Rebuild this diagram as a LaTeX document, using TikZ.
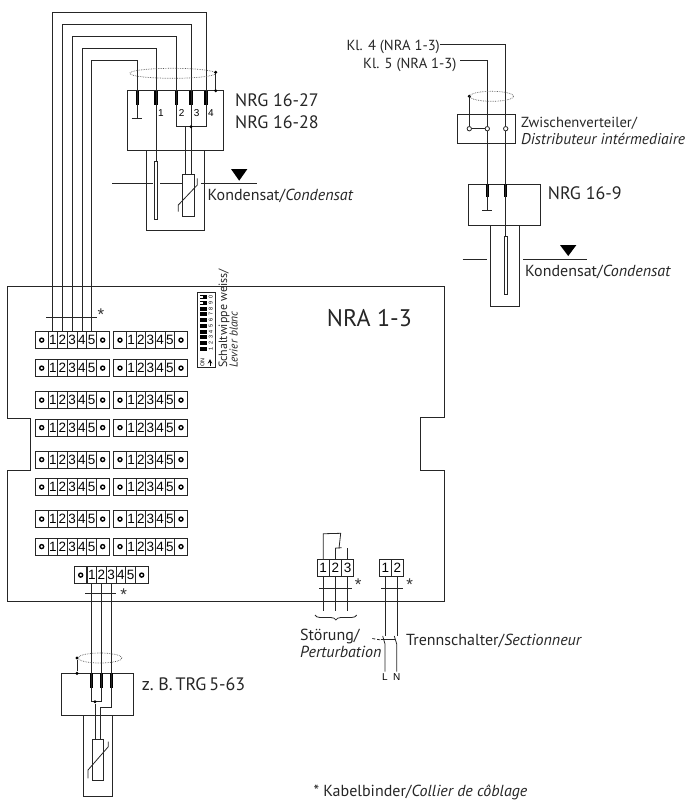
\documentclass[tikz,border=0pt]{standalone}
\usepackage{fontspec}
\setmainfont{PT Sans}
\newfontfamily\arialface{Liberation Sans}
\usetikzlibrary{calc}
\usetikzlibrary{decorations.pathreplacing}
\usetikzlibrary{matrix}
\usetikzlibrary{positioning}
\definecolor{inkline}{gray}{0.15}
\tikzset{
  terminal/.style={
    matrix of nodes, nodes in empty cells,
    inner sep=0, outer sep=0, anchor=north west, column sep=-.9pt,
    ampersand replacement=\&,
    nodes={draw=inkline, line width=.9pt, anchor=center, inner sep=0, outer sep=0,
           minimum height=17.3pt,
           font=\arialface\fontsize{13.5}{14}\selectfont}
  },
  cellw/.style={nodes={minimum width=9.7pt}},
  pinw/.style={nodes={minimum width=12.5pt, pinhole}},
  fullterm/.style={terminal,
    column 1/.style={pinw}, column 7/.style={pinw},
    column 2/.style={cellw}, column 3/.style={cellw}, column 4/.style={cellw},
    column 5/.style={cellw}, column 6/.style={cellw}
  },
  smallterm/.style={terminal, nodes={minimum width=12.2pt}},
  pinhole/.style={path picture={
    \draw[line width=1.4pt, black] (path picture bounding box.center) circle (2pt);}},
  wire/.style={draw=inkline, line width=.8pt},
  stub/.style={draw=black, line width=3.3pt},
  unitbox/.style={draw=inkline, line width=.8pt, inner sep=0, outer sep=0, anchor=north west},
  rodbox/.style={unitbox, fill=white},
  ring/.style={draw=black!65, line width=.7pt, densely dotted},
  dot/.style={fill=black, inner sep=0, minimum size=3.4pt, circle},
  hollow/.style={draw=inkline, line width=.8pt, fill=white, inner sep=0, minimum size=4.4pt, circle},
  typename/.style={anchor=base west, inner sep=0, text=black!85, font=\fontsize{18}{20}\selectfont},
  caption/.style={anchor=base west, inner sep=0, text=black!85, font=\fontsize{16}{18}\selectfont},
  smallcaption/.style={caption, font=\fontsize{14.6}{16}\selectfont},
  wirenum/.style={inner sep=0, font=\arialface\fontsize{10}{11}\selectfont},
  tiemark/.style={inner sep=0, anchor=north, text=black!80, font=\arialface\fontsize{17}{18}\selectfont},
  dipnum/.style={inner sep=0, rotate=90, font=\arialface\fontsize{5.5}{6}\selectfont}
}
\newcommand{\levelmark}[3]{%
  \fill[black] (#1,#2) -- ++(16.4,0) -- ++(-8.2,#3) -- cycle;}
\begin{document}
\begin{tikzpicture}[x=1pt,y=-1pt]
  \useasboundingbox (0,0) rectangle (686,801);

  % housing of the switching unit
  \draw[wire] (7.5,286.5) -- (444,286.5) -- (444,417.7) -- (420,417.7) -- (420,470.3)
    -- (444,470.3) -- (444,601) -- (7.5,601) -- (7.5,470.3) -- (30.7,470.3)
    -- (30.7,418) -- (7.5,418) -- cycle;
  \node[typename, font=\fontsize{24}{26}\selectfont] (nraname) at (326.7,326.7) {NRA 1-3};

  % terminal rows
  \foreach \rowy [count=\i] in {331,359,391,418.5,450.5,478,510,537.5} {
    \matrix (L\i) [fullterm] at (35,\rowy) {
 \& 1 \& 2 \& 3 \& 4 \& 5 \& \\
    };
    \matrix (R\i) [fullterm] at (113.3,\rowy) {
 \& 1 \& 2 \& 3 \& 4 \& 5 \& \\
    };
  }
  \matrix (trgterm) [fullterm] at (74,566) {
 \& 1 \& 2 \& 3 \& 4 \& 5 \& \\
  };
  \matrix (alarm) [smallterm] at (316.7,559) {
1 \& 2 \& 3 \\
  };
  \matrix (mains) [smallterm] at (378.7,559) {
1 \& 2 \\
  };

  % code switch
  \node[unitbox, minimum width=17.3pt, minimum height=75pt] (dipbox) at (197.7,292.7) {};
  \foreach \n [evaluate=\n as \py using 295.2+5.75*\n, evaluate=\n as \d using {int(mod(10-\n,10))}] in {0,...,9} {
    \fill[black] (199.5,\py) rectangle (207,\py+3.9);
    \node[dipnum] (dip\n) at (210.7,\py+2) {\d};
  }
  \fill[white] (200,296) rectangle (203,298);
  \fill[white] (200,301.7) rectangle (203,303.8);
  \node[dipnum] (dipon) at (202.5,362.5) {ON};
  \draw[->, >=stealth, line width=1pt] (210,366) -- (210,359);
  \node[caption, rotate=90, font=\fontsize{12}{13}\selectfont] (dipde) at (227,368) {Schaltwippe weiss/};
  \node[caption, rotate=90, font=\itshape\fontsize{11.5}{12}\selectfont] (dipfr) at (237.5,368) {Levier blanc};

  % NRG 16-27 / NRG 16-28
  \node[unitbox, minimum width=96pt, minimum height=59.3pt] (nrgA) at (127.3,90.7) {};
  \node[unitbox, minimum width=57.7pt, minimum height=80.7pt] (nrgAtube) at (146.3,150) {};
  \coordinate (a1) at (137.3,90.7);
  \coordinate (a2) at (156,90.7);
  \coordinate (a3) at (176.7,90.7);
  \coordinate (a4) at (191,90.7);
  \coordinate (a5) at (206,90.7);
  \draw[wire] (L1-1-2.north) |- (206,12.5) -- (a5);
  \draw[wire] (L1-1-3.north) |- (191,24) -- (a4);
  \draw[wire] (L1-1-4.north) |- (176.7,36) -- (a3);
  \draw[wire] (L1-1-5.north) |- (156,48) -- (a2);
  \draw[wire] (L1-1-6.north) |- (137.3,60) -- (a1);
  \foreach \c in {a1,a2,a3,a4,a5} {
    \draw[stub] (\c) -- ++(0,14.3);
  }
  \draw[wire] (a1) -- ++(0,27.3);
  \draw[wire] (131.7,118) -- (142.3,118);
  \node[rodbox, minimum width=3.4pt, minimum height=58pt] (nrgArod) at (154.3,161.3) {};
  \draw[wire] (a2) -- (nrgArod.north);
  \draw[wire] (a3) -- ++(0,36) -| (a5);
  \node[rodbox, minimum width=11.7pt, minimum height=41.3pt] (nrgAntc) at (182.3,174.7) {};
  \draw[wire] (a4) -- (a4 |- nrgAntc.north);
  \draw[wire] (185,126.7) -- (185,174.7);
  \node[dot] (nrgAjoin) at (191,126.7) {};
  \draw[wire] (178.3,211.7) -- (178.3,205) -- (197.3,185) -- (197.3,178.3);
  \node[wirenum] (nA1) at (161,113) {1};
  \node[wirenum] (nA2) at (181.7,113) {2};
  \node[wirenum] (nA3) at (196.7,113) {3};
  \node[wirenum] (nA4) at (211,113) {4};
  \draw[ring] (172.7,73.3) ellipse (43pt and 5pt);
  \node[dot] (shieldAtop) at (215.7,72.3) {};
  \node[dot] (shieldAbot) at (215.7,90.7) {};
  \draw[wire] (shieldAtop) -- (shieldAbot);
  \draw[wire] (112,183.3) -- (153,183.3) (160,183.3) -- (181.7,183.3) (201,183.3) -- (256.7,183.3);
  \levelmark{231}{169}{11.7}
  \node[typename] (nameAa) at (235,106) {NRG 16-27};
  \node[typename] (nameAb) at (235,128) {NRG 16-28};
  \node[caption] (condA) at (207.5,200.5) {Kondensat/\textit{Condensat}};
  \draw[wire] (46,317.3) -- (96.7,317.3);
  \node[tiemark] (tieA) at (101,309) {*};

  % NRG 16-9
  \node[unitbox, minimum width=57.7pt, minimum height=29pt] (dist) at (457.3,114.3) {};
  \node[unitbox, minimum width=72.4pt, minimum height=41pt] (nrgB) at (468.3,184) {};
  \node[unitbox, minimum width=29pt, minimum height=81pt] (nrgBtube) at (490,225) {};
  \node[smallcaption, anchor=base east] (kl4) at (440,50.7) {Kl. 4 (NRA 1-3)};
  \node[smallcaption, anchor=base east] (kl5) at (456.7,68) {Kl. 5 (NRA 1-3)};
  \node[hollow] (p1) at (469.3,128.7) {};
  \node[hollow] (p2) at (487.3,128.7) {};
  \node[hollow] (p3) at (505.7,128.7) {};
  \draw[wire] (kl4.east |- 0,44.3) -- (p3 |- 0,44.3) -- (p3);
  \draw[wire] (460,60) -- (p2 |- 0,60) -- (p2);
  \draw[wire] (p1) -- (p2);
  \draw[wire] (p2) -- (p2 |- nrgB.north);
  \draw[wire] (p3) -- (p3 |- nrgB.north);
  \node[dot] (shieldB) at (469.3,96.3) {};
  \draw[wire] (shieldB) -- (p1);
  \draw[ring] (491.7,96.3) ellipse (22pt and 5pt);
  \draw[stub] (p2 |- nrgB.north) -- ++(0,12.7);
  \draw[stub] (p3 |- nrgB.north) -- ++(0,12.7);
  \draw[wire] (p2 |- nrgB.north) -- ++(0,26);
  \draw[wire] (482.3,210) -- (492.3,210);
  \node[rodbox, minimum width=3.4pt, minimum height=57.6pt] (nrgBrod) at (504.3,236.7) {};
  \draw[wire] (p3 |- nrgB.north) -- (nrgBrod.north -| p3);
  \draw[wire] (462.7,259) -- (486.7,259) (523.3,259) -- (586.7,259);
  \levelmark{560}{245}{11}
  \node[smallcaption] (zwde) at (521,127.3) {Zwischenverteiler/};
  \node[caption, font=\fontsize{15.6}{17}\selectfont] (zwfr) at (521,144) {\textit{Distributeur intérmediaire}};
  \node[typename] (nameB) at (547.7,199) {NRG 16-9};
  \node[caption] (condB) at (525,276) {Kondensat/\textit{Condensat}};

  % TRG 5-63
  \node[unitbox, minimum width=72pt, minimum height=41.7pt] (trg) at (61.7,673.3) {};
  \node[unitbox, minimum width=29.3pt, minimum height=81pt] (trgtube) at (83,715) {};
  \coordinate (b1) at (trgterm-1-2.south |- trg.north);
  \coordinate (b2) at (trgterm-1-3.south |- trg.north);
  \coordinate (b3) at (trgterm-1-4.south |- trg.north);
  \foreach \k [count=\j from 2] in {b1,b2,b3} {
    \draw[wire] (trgterm-1-\j.south) -- (\k);
    \draw[stub] (\k) -- ++(0,14.4);
  }
  \draw[wire] (b1) -- ++(0,28.4) -| (b2);
  \draw[wire] (b3) -- ++(0,34.4) -- (100.3,707.7);
  \node[rodbox, minimum width=11.4pt, minimum height=41.4pt] (trgntc) at (92.3,739.3) {};
  \node[dot] (trgjoin) at (95,701.7) {};
  \draw[wire] (trgjoin) -- (trgjoin |- trgntc.north);
  \draw[wire] (100.3,707.7) -- (100.3 ,739.3);
  \draw[wire] (88,778.3) -- (88,770) -- (108.3,746.7) -- (108.3,741.7);
  \draw[ring] (100,658) ellipse (22pt and 5pt);
  \node[dot] (shieldCtop) at (77,658) {};
  \node[dot] (shieldCbot) at (77,673.3) {};
  \draw[wire] (shieldCtop) -- (shieldCbot);
  \node[typename] (nameC) at (141.7,690.7) {\spaceskip=.16em\relax z. B. TRG 5-63};
  \draw[wire] (85,593.7) -- (116,593.7);
  \node[tiemark] (tieC) at (123.7,589) {*};

  % alarm contact
  \draw[wire] (alarm-1-1.north) -- ++(0,-25.7) -- (340.7,533.3) -- (339,548.3);
  \draw[wire] (alarm-1-2.north) -- ++(0,-11.3) -- (341.7,547.7);
  \draw[wire] (alarm-1-3.north) -- ++(0,-11);
  \foreach \j in {1,2,3} {
    \draw[wire] (alarm-1-\j.south) -- ++(0,34.7);
  }
  \draw[wire] (319.3,588.3) -- (352.3,588.3);
  \node[tiemark] (tieD) at (358.3,579) {*};
  \draw[wire, decorate, decoration={brace, mirror, amplitude=5pt}] (315,615) -- (356.7,615);
  \node[caption] (alarmde) at (300,640.7) {Störung/};
  \node[caption] (alarmfr) at (300,657.3) {\textit{Perturbation}};

  % mains
  \draw[wire] (mains-1-1.south) -- ++(0,59);
  \draw[wire] (mains-1-2.south) -- ++(0,59);
  \draw[wire] (382.7,636) -- (385,644) -- (385,671.7);
  \draw[wire] (394.3,636) -- (396.7,644) -- (396.7,671.7);
  \draw[wire, densely dashed] (372.3,638.5) -- (381,640);
  \draw[wire] (381,639.5) -- (394.5,639.5);
  \draw[wire] (381,588.3) -- (402.7,588.3);
  \node[tiemark] (tieE) at (409.7,579) {*};
  \node[wirenum] (lineL) at (385,677.5) {L};
  \node[wirenum] (lineN) at (396.7,677.5) {N};
  \node[caption] (switchname) at (406,645.7) {Trennschalter/\textit{Sectionneur}};

  \node[caption] (tienote) at (313.3,796.5) {* Kabelbinder/\textit{Collier de côblage}};
\end{tikzpicture}
\end{document}
